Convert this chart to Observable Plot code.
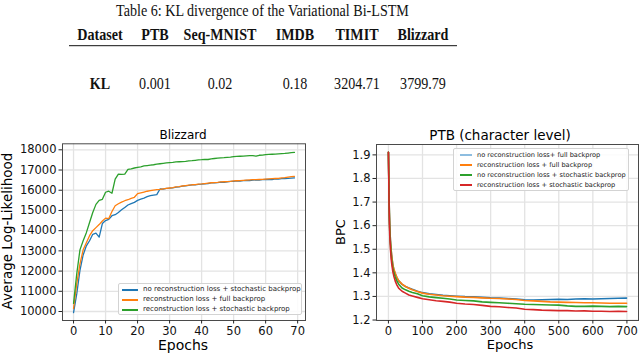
<!DOCTYPE html>
<html><head><meta charset="utf-8">
<script src="https://cdn.jsdelivr.net/npm/d3@7"></script>
<script src="https://cdn.jsdelivr.net/npm/@observablehq/plot@0.6"></script>
<style>
html,body{margin:0;padding:0;background:#fff;}
#root{position:relative;width:640px;height:353px;overflow:hidden;font-family:"DejaVu Sans",sans-serif;color:#000;}
.abs{position:absolute;white-space:nowrap;line-height:1;}
.legend{position:absolute;border:1px solid #d3d3d3;border-radius:2px;background:rgba(255,255,255,0.85);box-sizing:border-box;}
.lrow{position:absolute;left:0;height:8px;}
.lsw{position:absolute;}
.ltx{position:absolute;top:50%;transform:translateY(-52%);color:#222;white-space:nowrap;line-height:1;}
</style></head><body><div id="root"></div>
<script>
// ---------------- data ----------------
const tableTitle = "Table 6: KL divergence of the Variational Bi-LSTM";
const tableHeader = ["Dataset", "PTB", "Seq-MNIST", "IMDB", "TIMIT", "Blizzard"];
const tableRow = ["KL", "0.001", "0.02", "0.18", "3204.71", "3799.79"];

const blizzardTitle = "Blizzard";
const blizzardXLabel = "Epochs";
const blizzardYLabel = "Average Log-Likelihood";
const blizzardSeries = [
  "no reconstruction loss + stochastic backprop",
  "reconstruction loss + full backprop",
  "reconstruction loss + stochastic backprop"
];
const blizzardColors = ["#1f77b4", "#ff7f0e", "#2ca02c"];
const blizzardXTicks = [0, 10, 20, 30, 40, 50, 60, 70];
const blizzardYTicks = [10000, 11000, 12000, 13000, 14000, 15000, 16000, 17000, 18000];
const blizzardEpochs = [0,1,2,3,4,5,6,7,8,9,10,11,12,13,14,15,16,17,18,19,20,21,22,23,24,25,26,27,28,29,30,31,32,33,34,35,36,37,38,39,40,41,42,43,44,45,46,47,48,49,50,51,52,53,54,55,56,57,58,59,60,61,62,63,64,65,66,67,68,69];
const blizzardBlue = [9950,10870,12030,12800,13250,13500,13820,13880,13680,14350,14500,14560,14740,14790,14900,15030,15150,15270,15340,15400,15500,15560,15610,15680,15730,15760,15780,16060,16050,16090,16100,16120,16150,16170,16200,16220,16240,16260,16270,16290,16300,16320,16330,16360,16370,16380,16400,16390,16420,16440,16440,16460,16450,16470,16490,16480,16500,16510,16500,16520,16530,16540,16520,16560,16550,16570,16580,16590,16600,16610];
const blizzardOrange = [10150,11370,12360,13050,13400,13750,14000,14150,14300,14480,14620,14600,14950,15230,15330,15410,15480,15530,15600,15650,15830,15870,15910,15950,15980,16010,16030,16040,16070,16090,16110,16130,16170,16180,16210,16230,16250,16270,16280,16300,16310,16330,16350,16370,16380,16390,16410,16420,16430,16440,16460,16470,16480,16490,16500,16510,16520,16520,16530,16540,16550,16560,16570,16580,16590,16610,16620,16650,16670,16690];
const blizzardGreen = [10400,11860,13050,13500,13900,14400,14900,15300,15500,15550,15900,15950,15850,16550,16800,16780,16800,17030,17060,17100,17130,17160,17200,17220,17240,17260,17290,17310,17330,17350,17370,17380,17400,17410,17420,17430,17450,17460,17480,17500,17510,17530,17520,17550,17570,17590,17600,17610,17630,17640,17660,17670,17680,17690,17700,17710,17710,17690,17730,17740,17760,17770,17780,17790,17800,17810,17820,17840,17860,17870];

const ptbTitle = "PTB (character level)";
const ptbXLabel = "Epochs";
const ptbYLabel = "BPC";
const ptbSeries = [
  "no reconstruction loss+ full backprop",
  "reconstruction loss + full backprop",
  "no reconstruction loss + stochastic backprop",
  "reconstruction loss + stochastic backprop"
];
const ptbColors = ["#1f77b4", "#ff7f0e", "#2ca02c", "#d62728"];
const ptbLegendColors = ["#8dbde0", "#ff7f0e", "#2ca02c", "#d62728"];
const ptbXTicks = [0, 100, 200, 300, 400, 500, 600, 700];
const ptbYTicks = [1.2, 1.3, 1.4, 1.5, 1.6, 1.7, 1.8, 1.9];
const ptbEpochs = [0,1,2,3,4,6,8,10,13,16,20,25,30,40,50,60,70,85,100,120,140,160,180,200,225,250,275,300,325,350,375,400,425,450,475,500,525,550,575,600,625,650,675,699];
const ptbBlue =   [1.911,1.82,1.71,1.64,1.59,1.535,1.495,1.466,1.433,1.413,1.396,1.379,1.366,1.351,1.342,1.336,1.330,1.322,1.316,1.311,1.308,1.305,1.303,1.301,1.299,1.298,1.296,1.294,1.293,1.291,1.289,1.286,1.285,1.286,1.287,1.288,1.287,1.289,1.290,1.289,1.290,1.291,1.292,1.293];
const ptbOrange = [1.911,1.82,1.71,1.64,1.59,1.535,1.495,1.468,1.435,1.415,1.398,1.380,1.367,1.352,1.342,1.335,1.328,1.321,1.314,1.309,1.306,1.303,1.301,1.299,1.297,1.296,1.294,1.292,1.291,1.289,1.287,1.283,1.281,1.279,1.277,1.276,1.275,1.274,1.273,1.273,1.272,1.271,1.271,1.271];
const ptbGreen =  [1.911,1.81,1.70,1.62,1.575,1.52,1.48,1.452,1.42,1.40,1.382,1.365,1.352,1.336,1.328,1.322,1.317,1.311,1.303,1.298,1.295,1.292,1.289,1.285,1.283,1.281,1.277,1.275,1.273,1.271,1.269,1.267,1.266,1.265,1.264,1.263,1.260,1.258,1.258,1.259,1.258,1.257,1.258,1.257];
const ptbRed =    [1.911,1.80,1.68,1.60,1.555,1.50,1.46,1.435,1.405,1.385,1.365,1.348,1.335,1.322,1.314,1.306,1.302,1.296,1.290,1.286,1.282,1.279,1.276,1.271,1.268,1.266,1.262,1.258,1.256,1.253,1.251,1.246,1.244,1.242,1.241,1.240,1.240,1.238,1.239,1.237,1.237,1.236,1.237,1.236];

// ---------------- layout ----------------
const root = document.getElementById("root");
function addText(txt, css) {
  const d = document.createElement("div");
  d.className = "abs";
  d.textContent = txt;
  Object.assign(d.style, css);
  root.appendChild(d);
  return d;
}

// Table (top)
const tableColX = [100, 155, 220, 295, 357, 423];
const sx = 0.83;
const tsvg = d3.select(root).append("svg")
  .attr("width", 640).attr("height", 100)
  .style("position", "absolute").style("left", "0px").style("top", "0px");
const tg = tsvg.append("g").attr("transform", `scale(${sx},1)`)
  .attr("font-family", "'Liberation Serif', 'Times New Roman', serif").attr("font-size", 17).attr("fill", "#111");
tg.append("text").attr("x", 262.5 / sx).attr("y", 16).attr("text-anchor", "middle").text(tableTitle);
tg.selectAll("text.h").data(tableHeader).join("text").attr("class", "h")
  .attr("x", (d, i) => tableColX[i] / sx).attr("y", 40.5).attr("text-anchor", "middle")
  .attr("font-weight", "bold").text(d => d);
tg.selectAll("text.r").data(tableRow).join("text").attr("class", "r")
  .attr("x", (d, i) => tableColX[i] / sx).attr("y", 89.5).attr("text-anchor", "middle")
  .attr("font-weight", (d, i) => i === 0 ? "bold" : "normal").text(d => d);
tsvg.append("line").attr("x1", 69).attr("x2", 457).attr("y1", 45.7).attr("y2", 45.7)
  .attr("stroke", "#111").attr("stroke-width", 1);

// ---------------- Blizzard chart ----------------
const blizRows = [];
[blizzardBlue, blizzardOrange, blizzardGreen].forEach((arr, i) =>
  arr.forEach((v, j) => blizRows.push({series: blizzardSeries[i], epoch: blizzardEpochs[j], value: v})));

const gridStyle = {stroke: "#e3e3e3", strokeOpacity: 1, strokeWidth: 1.3};
const blizPlot = Plot.plot({
  width: 320, height: 233,
  marginLeft: 62, marginRight: 15, marginTop: 23.3, marginBottom: 33,
  style: {background: "transparent", fontFamily: "'DejaVu Sans', sans-serif", color: "#262626", overflow: "visible"},
  x: {domain: [-3.45, 72.45]},
  y: {domain: [9555, 18297]},
  color: {domain: blizzardSeries, range: blizzardColors},
  marks: [
    Plot.gridX({ticks: blizzardXTicks, ...gridStyle}),
    Plot.gridY({ticks: blizzardYTicks, ...gridStyle}),
    Plot.line(blizRows, {x: "epoch", y: "value", stroke: "series", strokeWidth: 1.3}),
    Plot.frame({stroke: "#4a4a4a", strokeWidth: 1}),
    Plot.axisX({ticks: blizzardXTicks, label: null, tickSize: 3.5, tickPadding: 2.5, fontSize: 11.5, fill: "#111"}),
    Plot.axisY({ticks: blizzardYTicks, label: null, tickSize: 3.5, tickPadding: 2.5, fontSize: 11.5, fill: "#111", tickFormat: d => String(d)})
  ]
});
Object.assign(blizPlot.style, {position: "absolute", left: "0px", top: "120px"});
root.appendChild(blizPlot);

addText(blizzardTitle, {left: "183px", top: "129px", fontSize: "12px", transform: "translateX(-50%)"});
addText(blizzardXLabel, {left: "183px", top: "338px", fontSize: "14px", transform: "translateX(-50%)"});
addText(blizzardYLabel, {left: "8px", top: "231px", fontSize: "13.5px", transform: "translate(-50%,-50%) rotate(-90deg)"});

// ---------------- PTB chart ----------------
const ptbRows = [];
[ptbBlue, ptbOrange, ptbGreen, ptbRed].forEach((arr, i) =>
  arr.forEach((v, j) => ptbRows.push({series: ptbSeries[i], epoch: ptbEpochs[j], value: v})));

const ptbPlot = Plot.plot({
  width: 320, height: 233,
  marginLeft: 56, marginRight: 2, marginTop: 24, marginBottom: 33,
  style: {background: "transparent", fontFamily: "'DejaVu Sans', sans-serif", color: "#262626", overflow: "visible"},
  x: {domain: [-35, 734]},
  y: {domain: [1.198, 1.944]},
  color: {domain: ptbSeries, range: ptbColors},
  marks: [
    Plot.gridX({ticks: ptbXTicks, ...gridStyle}),
    Plot.gridY({ticks: ptbYTicks, ...gridStyle}),
    Plot.line(ptbRows, {x: "epoch", y: "value", stroke: "series", strokeWidth: 1.6}),
    Plot.frame({stroke: "#4a4a4a", strokeWidth: 1}),
    Plot.axisX({ticks: ptbXTicks, label: null, tickSize: 3.5, tickPadding: 2.5, fontSize: 11.5, fill: "#111"}),
    Plot.axisY({ticks: ptbYTicks, label: null, tickSize: 3.5, tickPadding: 2.5, fontSize: 11.5, fill: "#111", tickFormat: d3.format(".1f")})
  ]
});
Object.assign(ptbPlot.style, {position: "absolute", left: "320px", top: "120px"});
root.appendChild(ptbPlot);

addText(ptbTitle, {left: "500px", top: "129px", fontSize: "13.5px", transform: "translateX(-50%)"});
addText(ptbXLabel, {left: "510px", top: "338px", fontSize: "13px", transform: "translateX(-50%)"});
addText(ptbYLabel, {left: "340px", top: "232px", fontSize: "13px", transform: "translate(-50%,-50%) rotate(-90deg)"});

// ---------------- legends ----------------
function legend(box, names, colors, rowsY, swX, swW, txX, fontSize, lw) {
  const lg = document.createElement("div");
  lg.className = "legend";
  Object.assign(lg.style, {left: box[0] + "px", top: box[1] + "px", width: (box[2] - box[0]) + "px", height: (box[3] - box[1]) + "px"});
  names.forEach((n, i) => {
    const row = document.createElement("div");
    row.className = "lrow";
    row.style.top = Math.round(rowsY[i] - box[1] - 4) + "px";
    row.style.width = "100%";
    const sw = document.createElement("div");
    sw.className = "lsw";
    Object.assign(sw.style, {left: (swX - box[0]) + "px", width: swW + "px", height: lw + "px", top: (4 - Math.floor(lw / 2)) + "px", background: colors[i]});
    const tx = document.createElement("div");
    tx.className = "ltx";
    tx.textContent = n;
    Object.assign(tx.style, {left: (txX - box[0]) + "px", fontSize: fontSize + "px"});
    row.appendChild(sw); row.appendChild(tx);
    lg.appendChild(row);
  });
  root.appendChild(lg);
}
legend([118, 283, 302, 315], blizzardSeries, blizzardColors, [288.5, 298.7, 309.2], 121, 16, 142, 7, 2);
legend([453, 148, 629, 191], ptbSeries, ptbLegendColors, [153.5, 164, 174.2, 184.4], 459, 12, 476, 6.6, 2);
</script></body></html>
